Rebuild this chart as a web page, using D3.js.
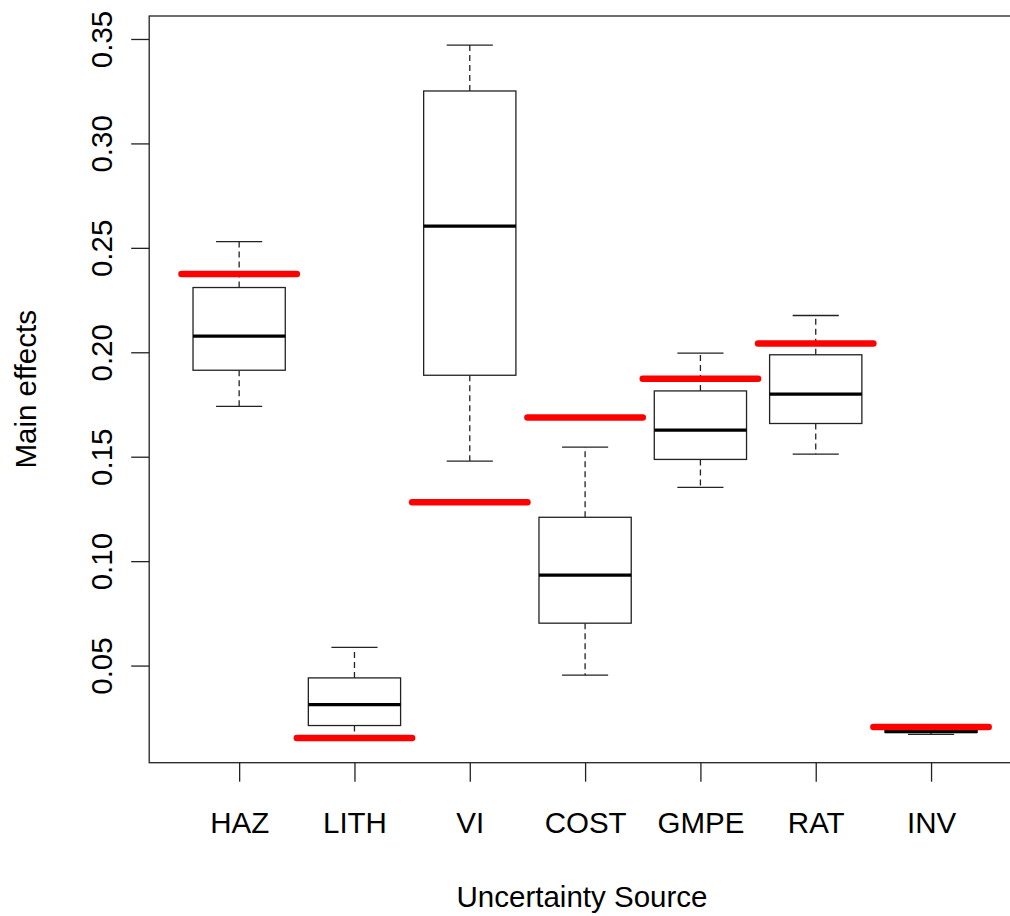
<!DOCTYPE html>
<html>
<head>
<meta charset="utf-8">
<script src="https://cdn.jsdelivr.net/npm/d3@7"></script>
<style>
  html, body { margin: 0; padding: 0; background: #fff; }
  svg text { font-family: "Liberation Sans", Arial, sans-serif; fill: #000; }
</style>
</head>
<body>
<div id="chart"></div>
<script>
// box statistics
var sources    = ["HAZ", "LITH", "VI", "COST", "GMPE", "RAT", "INV"];
var whiskerLow = [0.1741, 0.0158, 0.1479, 0.0454, 0.1353, 0.1512, 0.0171];
var boxLow     = [0.1914, 0.0213, 0.1890, 0.0703, 0.1487, 0.1659, 0.0180];
var medians    = [0.2077, 0.0313, 0.2604, 0.0933, 0.1627, 0.1800, 0.0184];
var boxHigh    = [0.2310, 0.0441, 0.3251, 0.1210, 0.1815, 0.1988, 0.0190];
var whiskerHigh= [0.2530, 0.0587, 0.3471, 0.1546, 0.1996, 0.2176, 0.0200];
// red reference values
var redValues  = [0.2375, 0.0153, 0.1282, 0.1688, 0.1873, 0.2042, 0.0206];
var yTicks     = [0.05, 0.10, 0.15, 0.20, 0.25, 0.30, 0.35];
var yLimits    = [0.0035, 0.3610];

var W = 1010, H = 916;
var frame = {left: 149.2, top: 16, right: 1021, bottom: 762.7};
var fontSize = 29.5, lineCol = "#222";

var svg = d3.select("#chart").append("svg")
    .attr("width", W)
    .attr("height", H);

var data = sources.map(function(s, i) {
  return {name: s, pos: i + 1, wlo: whiskerLow[i], q1: boxLow[i], med: medians[i],
          q3: boxHigh[i], whi: whiskerHigh[i], red: redValues[i]};
});

var x = d3.scaleLinear()
    .domain([0.5 - 0.28, sources.length + 0.5 + 0.28])
    .range([frame.left, frame.right]);
var y = d3.scaleLinear()
    .domain(yLimits)
    .range([frame.bottom, frame.top]);

// y axis
var yAxis = svg.append("g")
    .attr("transform", "translate(" + frame.left + ",0)")
    .call(d3.axisLeft(y).tickValues(yTicks).tickSize(18).tickFormat(d3.format(".2f")));
yAxis.select(".domain").remove();
yAxis.selectAll(".tick line").attr("stroke", lineCol).attr("stroke-width", 1.3);
yAxis.selectAll(".tick text")
    .attr("font-size", fontSize)
    .attr("font-family", "Liberation Sans, Arial, sans-serif")
    .attr("text-anchor", "middle")
    .attr("x", 0).attr("y", 0).attr("dy", 0)
    .attr("transform", "translate(-37,0) rotate(-90)");

// x axis
var xAxis = svg.append("g")
    .attr("transform", "translate(0," + frame.bottom + ")")
    .call(d3.axisBottom(x).tickValues(data.map(function(d) { return d.pos; }))
      .tickSize(19).tickFormat(function(d) { return sources[d - 1]; }));
xAxis.select(".domain").remove();
xAxis.selectAll(".tick line").attr("stroke", lineCol).attr("stroke-width", 1.3);
xAxis.selectAll(".tick text")
    .attr("font-size", fontSize)
    .attr("font-family", "Liberation Sans, Arial, sans-serif")
    .attr("y", 70).attr("dy", 0);

// plot frame
svg.append("rect")
    .attr("x", frame.left).attr("y", frame.top)
    .attr("width", frame.right - frame.left)
    .attr("height", frame.bottom - frame.top)
    .attr("fill", "none")
    .attr("stroke", lineCol)
    .attr("stroke-width", 1.3);

var g = svg.selectAll("g.box")
    .data(data)
  .enter().append("g")
    .attr("class", "box");

// whiskers (dashed)
g.append("line")
    .attr("x1", function(d) { return x(d.pos); })
    .attr("x2", function(d) { return x(d.pos); })
    .attr("y1", function(d) { return y(d.q3); })
    .attr("y2", function(d) { return y(d.whi); })
    .attr("stroke", lineCol).attr("stroke-width", 1.3).attr("stroke-dasharray", "6,4");
g.append("line")
    .attr("x1", function(d) { return x(d.pos); })
    .attr("x2", function(d) { return x(d.pos); })
    .attr("y1", function(d) { return y(d.q1); })
    .attr("y2", function(d) { return y(d.wlo); })
    .attr("stroke", lineCol).attr("stroke-width", 1.3).attr("stroke-dasharray", "6,4");

// staples
["whi", "wlo"].forEach(function(k) {
  g.append("line")
      .attr("x1", function(d) { return x(d.pos - 0.2); })
      .attr("x2", function(d) { return x(d.pos + 0.2); })
      .attr("y1", function(d) { return y(d[k]); })
      .attr("y2", function(d) { return y(d[k]); })
      .attr("stroke", lineCol).attr("stroke-width", 1.3);
});

// boxes
g.append("rect")
    .attr("x", function(d) { return x(d.pos - 0.4); })
    .attr("width", function(d) { return x(d.pos + 0.4) - x(d.pos - 0.4); })
    .attr("y", function(d) { return y(d.q3); })
    .attr("height", function(d) { return Math.max(0, y(d.q1) - y(d.q3)); })
    .attr("fill", "#fff")
    .attr("stroke", lineCol).attr("stroke-width", 1.3);

// medians
g.append("line")
    .attr("x1", function(d) { return x(d.pos - 0.4); })
    .attr("x2", function(d) { return x(d.pos + 0.4); })
    .attr("y1", function(d) { return y(d.med); })
    .attr("y2", function(d) { return y(d.med); })
    .attr("stroke", "#000").attr("stroke-width", 3.2);

// red reference segments
svg.selectAll("line.red")
    .data(data)
  .enter().append("line")
    .attr("class", "red")
    .attr("x1", function(d) { return x(d.pos - 0.5); })
    .attr("x2", function(d) { return x(d.pos + 0.5); })
    .attr("y1", function(d) { return y(d.red); })
    .attr("y2", function(d) { return y(d.red); })
    .attr("stroke", "#ff0000")
    .attr("stroke-width", 6.5)
    .attr("stroke-linecap", "round");

// axis titles
svg.append("text")
    .attr("x", 582).attr("y", 907)
    .attr("text-anchor", "middle")
    .attr("font-size", fontSize)
    .text("Uncertainty Source");

svg.append("text")
    .attr("transform", "translate(36," + ((frame.top + frame.bottom) / 2) + ") rotate(-90)")
    .attr("text-anchor", "middle")
    .attr("font-size", fontSize)
    .text("Main effects");
</script>
</body>
</html>
